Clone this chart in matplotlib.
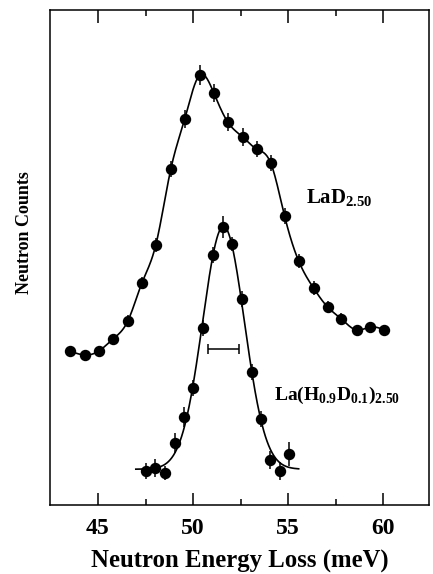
import numpy as np
import matplotlib
matplotlib.use("Agg")
import matplotlib.pyplot as plt

# ---- data (arbitrary count units) ----
lad_energy = [43.53, 44.32, 45.05, 45.79, 46.57, 47.31, 48.04, 48.83, 49.56, 50.35,
              51.09, 51.82, 52.61, 53.34, 54.08, 54.81, 55.55, 56.33, 57.07, 57.80,
              58.59, 59.32, 60.06]
lad_counts = [154, 150, 154, 166, 184, 222, 260, 336, 386, 430,
              412, 383, 368, 356, 342, 289, 244, 217, 198, 186,
              175, 178, 175]
lad_err = [3, 3, 3, 4, 6, 6, 7, 8, 9, 10,
           9, 9, 9, 8, 8, 8, 7, 7, 6, 6,
           5, 5, 5]

lah_energy = [47.52, 47.99, 48.52, 49.04, 49.51, 49.98, 50.51, 51.03, 51.56, 52.03,
              52.56, 53.08, 53.55, 54.02, 54.55, 55.02]
lah_counts = [34, 37, 32, 62, 88, 117, 177, 250, 278, 261,
              206, 133, 86, 45, 34, 51]
lah_err = [8, 9, 7, 10, 10, 8, 8, 8, 11, 7,
           8, 8, 8, 9, 9, 12]

res_center = 51.6
res_halfwidth = 0.82
res_level = 156

xticks = [45, 50, 55, 60]
xticklabels = ["45", "50", "55", "60"]


def natural_spline(x, y, xs):
    x = np.asarray(x, float); y = np.asarray(y, float)
    n = len(x)
    h = np.diff(x)
    A = np.zeros((n, n)); b = np.zeros(n)
    A[0, 0] = 1; A[-1, -1] = 1
    for i in range(1, n - 1):
        A[i, i - 1] = h[i - 1]
        A[i, i] = 2 * (h[i - 1] + h[i])
        A[i, i + 1] = h[i]
        b[i] = 3 * ((y[i + 1] - y[i]) / h[i] - (y[i] - y[i - 1]) / h[i - 1])
    c = np.linalg.solve(A, b)
    out = np.empty_like(xs)
    for k, xv in enumerate(xs):
        i = min(max(np.searchsorted(x, xv) - 1, 0), n - 2)
        dx = xv - x[i]
        bb = (y[i + 1] - y[i]) / h[i] - h[i] * (2 * c[i] + c[i + 1]) / 3
        d = (c[i + 1] - c[i]) / (3 * h[i])
        out[k] = y[i] + bb * dx + c[i] * dx ** 2 + d * dx ** 3
    return out


def gauss_fit(x, y):
    x = np.asarray(x, float); y = np.asarray(y, float)
    best = None
    for mu in np.linspace(50.5, 52.5, 81):
        for sig in np.linspace(0.5, 2.0, 61):
            g = np.exp(-0.5 * ((x - mu) / sig) ** 2)
            M = np.vstack([g, np.ones_like(g)]).T
            coef, *_ = np.linalg.lstsq(M, y, rcond=None)
            r = np.sum((M @ coef - y) ** 2)
            if best is None or r < best[0]:
                best = (r, mu, sig, coef)
    return best[1:]


plt.rcParams['font.family'] = ['Liberation Serif', 'DejaVu Serif']
plt.rcParams['mathtext.fontset'] = 'custom'
plt.rcParams['mathtext.rm'] = 'Liberation Serif:bold'
plt.rcParams['mathtext.bf'] = 'Liberation Serif:bold'

fig = plt.figure(figsize=(4.33, 5.74), dpi=100)
ax = fig.add_axes([50 / 433, (574 - 505) / 574, 379 / 433, 495 / 574])

# smooth curve through LaD data
xs = np.linspace(lad_energy[0], lad_energy[-1], 400)
ax.plot(xs, natural_spline(lad_energy, lad_counts, xs), color='black', lw=1.2)
ax.errorbar(lad_energy, lad_counts, yerr=lad_err, fmt='o', color='black',
            ms=7.2, elinewidth=1.1, capsize=0)

# gaussian fit for La(H0.9D0.1)
mu, sig, coef = gauss_fit(lah_energy, lah_counts)
xg = np.linspace(46.99, 55.55, 300)
ax.plot(xg, coef[0] * np.exp(-0.5 * ((xg - mu) / sig) ** 2) + coef[1],
        color='black', lw=1.2)
ax.errorbar(lah_energy, lah_counts, yerr=lah_err, fmt='o', color='black',
            ms=7.2, elinewidth=1.1, capsize=0)

# resolution bar
ax.errorbar([res_center], [res_level], xerr=[res_halfwidth], fmt='none',
            ecolor='black', elinewidth=1.1, capsize=3.5, capthick=1.1)

ax.text(55.92, 307, r"LaD$_{\mathbf{2.50}}$", fontsize=15, fontweight='bold',
        ha='left', va='center')
ax.text(54.25, 110, r"La(H$_{\mathbf{0.9}}$D$_{\mathbf{0.1}}$)$_{\mathbf{2.50}}$",
        fontsize=14, fontweight='bold', ha='left', va='center')

ax.set_xlim(42.48, 62.4)
ax.set_ylim(0, 495)
ax.set_xticks(xticks)
ax.set_xticklabels(xticklabels, fontsize=17, fontweight='bold')
ax.set_xticks([47.5, 52.5, 57.5], minor=True)
ax.set_yticks([])
ax.tick_params(axis='x', which='major', direction='in', length=9, width=1.1,
               top=True, pad=9)
ax.tick_params(axis='x', which='minor', direction='in', length=4, width=1.1,
               top=True)
for s in ax.spines.values():
    s.set_linewidth(1.1)

ax.set_xlabel("Neutron Energy Loss (meV)", fontsize=17.8, fontweight='bold',
              labelpad=8)
ax.set_ylabel("Neutron Counts", fontsize=13, fontweight='bold')
ax.yaxis.set_label_coords(-0.045, 0.55)

fig.savefig("out.png", dpi=100)
